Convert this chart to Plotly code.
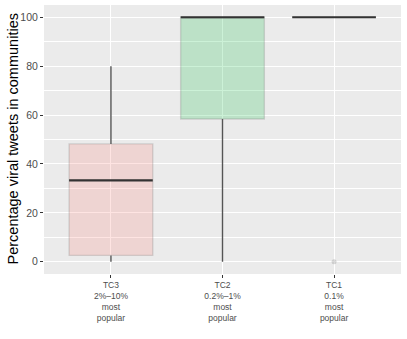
import plotly.graph_objects as go

categories = ["TC3<br>2%–10%<br>most<br>popular", "TC2<br>0.2%–1%<br>most<br>popular", "TC1<br>0.1%<br>most<br>popular"]
lower = [0, 0, 100]
q1 = [2.6, 58.4, 100]
median = [33.3, 100, 100]
q3 = [48.2, 100, 100]
upper = [80, 100, 100]
outlier_cat = [3]
outlier_val = [0]
y_title = "Percentage viral tweets in communities"
fills = ["rgba(248,118,109,0.2)", "rgba(0,186,56,0.2)", "rgba(97,156,255,0.2)"]

xs = [1, 2, 3]
hw = 0.375
fig = go.Figure()
for i, x in enumerate(xs):
    # whiskers
    fig.add_trace(go.Scatter(x=[x, x, None, x, x], y=[lower[i], q1[i], None, q3[i], upper[i]],
                             mode="lines", line=dict(color="#555555", width=1.4),
                             showlegend=False, hoverinfo="skip"))
    fig.add_trace(go.Box(x=[x], q1=[q1[i]], median=[median[i]], q3=[q3[i]],
                         lowerfence=[q1[i]], upperfence=[q3[i]], width=2 * hw,
                         fillcolor=fills[i], line=dict(color="rgba(120,120,120,0.25)", width=1.4),
                         whiskerwidth=0, showlegend=False, boxpoints=False))
    fig.add_trace(go.Scatter(x=[x - hw, x + hw], y=[median[i], median[i]], mode="lines",
                             line=dict(color="#333333", width=2.2), showlegend=False, hoverinfo="skip"))
fig.add_trace(go.Scatter(x=outlier_cat, y=outlier_val, mode="markers",
                         marker=dict(color="rgba(150,150,150,0.35)", size=5), showlegend=False))

fig.update_layout(
    width=407, height=339,
    margin=dict(l=44, r=6, t=5, b=65, autoexpand=False),
    paper_bgcolor="white", plot_bgcolor="#EBEBEB",
    font=dict(family="Liberation Sans, Arial, sans-serif"),
    annotations=[dict(text=y_title, xref="paper", yref="paper", x=-32 / 357, y=0.5,
                      xanchor="center", yanchor="middle", textangle=-90, showarrow=False,
                      font=dict(size=14.5, color="black"))],
)
fig.update_xaxes(range=[0.4, 3.6], tickvals=xs, ticktext=categories, automargin=False,
                 showgrid=True, gridcolor="white", gridwidth=1.1, zeroline=False,
                 ticks="outside", ticklen=3, tickcolor="#333333",
                 tickfont=dict(size=8.5, color="#4D4D4D"), showline=False)
fig.update_yaxes(range=[-5, 105], tickvals=[0, 20, 40, 60, 80, 100], automargin=False,
                 showgrid=True, gridcolor="white", gridwidth=1.1, zeroline=False,
                 minor=dict(tickvals=[10, 30, 50, 70, 90], showgrid=True, gridcolor="white", gridwidth=0.5, ticks=""),
                 ticks="outside", ticklen=3, tickcolor="#333333",
                 tickfont=dict(size=10.5, color="#4D4D4D"))
fig.write_html("out.html", config={"displayModeBar": False},
               post_script="document.body.style.margin='0';")
